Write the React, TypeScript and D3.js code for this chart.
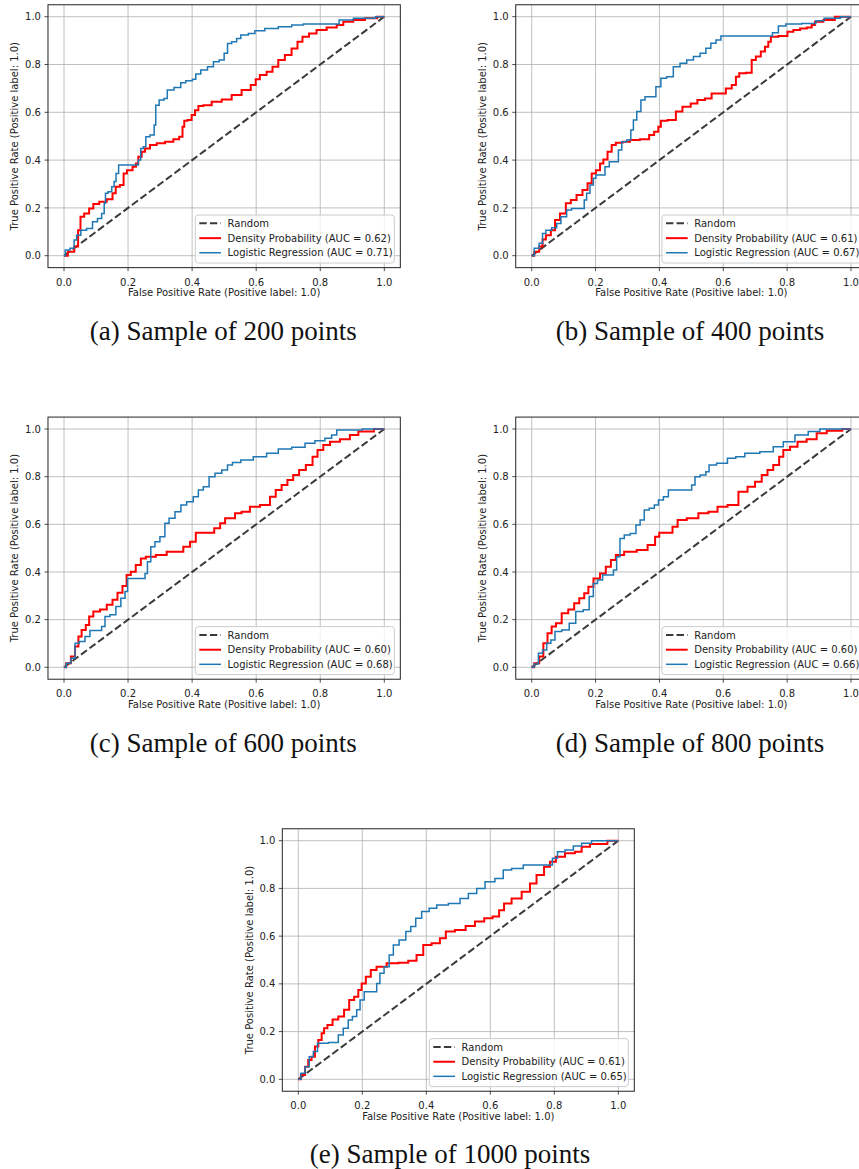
import React from "react";
import * as d3 from "d3";

// ROC curves, [fpr, tpr] vertices, for each sample size
const densityA: [number, number][] = [
  [0, 0], [0.024, 0.017], [0.04, 0.038], [0.048, 0.107], [0.055, 0.163], [0.071, 0.177],
  [0.086, 0.198], [0.097, 0.216], [0.123, 0.226], [0.144, 0.236], [0.159, 0.261], [0.164, 0.289],
  [0.185, 0.296], [0.187, 0.344], [0.206, 0.358], [0.222, 0.372], [0.227, 0.386], [0.237, 0.414],
  [0.248, 0.435], [0.258, 0.449], [0.279, 0.463], [0.3, 0.47], [0.331, 0.477], [0.352, 0.487],
  [0.367, 0.498], [0.373, 0.54], [0.378, 0.565], [0.393, 0.568], [0.404, 0.589], [0.414, 0.609],
  [0.425, 0.626], [0.445, 0.63], [0.477, 0.644], [0.508, 0.654], [0.539, 0.672], [0.57, 0.693],
  [0.596, 0.714], [0.601, 0.738], [0.622, 0.756], [0.643, 0.77], [0.659, 0.791], [0.679, 0.819],
  [0.7, 0.84], [0.721, 0.867], [0.737, 0.895], [0.752, 0.916], [0.778, 0.93], [0.799, 0.944],
  [0.841, 0.955], [0.862, 0.965], [0.882, 0.979], [0.924, 0.986], [0.955, 0.993], [1, 1],
];
const logisticA: [number, number][] = [
  [0, 0], [0.008, 0.024], [0.029, 0.031], [0.034, 0.066], [0.045, 0.086], [0.06, 0.107],
  [0.081, 0.114], [0.097, 0.142], [0.112, 0.156], [0.123, 0.177], [0.128, 0.219], [0.131, 0.261],
  [0.144, 0.268], [0.154, 0.289], [0.159, 0.31], [0.166, 0.344], [0.175, 0.379], [0.227, 0.379],
  [0.237, 0.4], [0.242, 0.449], [0.253, 0.456], [0.258, 0.498], [0.279, 0.505], [0.284, 0.547],
  [0.289, 0.63], [0.305, 0.651], [0.32, 0.658], [0.325, 0.693], [0.362, 0.704], [0.367, 0.724],
  [0.393, 0.732], [0.409, 0.738], [0.414, 0.76], [0.44, 0.777], [0.456, 0.791], [0.477, 0.812],
  [0.492, 0.819], [0.508, 0.847], [0.513, 0.888], [0.534, 0.895], [0.544, 0.909], [0.56, 0.923],
  [0.591, 0.93], [0.601, 0.941], [0.653, 0.951], [0.685, 0.958], [0.737, 0.965], [0.758, 0.969],
  [0.856, 0.969], [0.862, 0.986], [0.945, 0.993], [1, 1],
];
const densityB: [number, number][] = [
  [0, 0], [0.016, 0.017], [0.031, 0.038], [0.037, 0.068], [0.052, 0.086], [0.068, 0.107],
  [0.078, 0.149], [0.099, 0.177], [0.115, 0.219], [0.13, 0.233], [0.151, 0.254], [0.167, 0.275],
  [0.183, 0.303], [0.193, 0.344], [0.209, 0.358], [0.219, 0.386], [0.23, 0.403], [0.245, 0.435],
  [0.256, 0.463], [0.271, 0.473], [0.298, 0.477], [0.318, 0.484], [0.36, 0.487], [0.376, 0.505],
  [0.391, 0.519], [0.402, 0.54], [0.407, 0.565], [0.444, 0.568], [0.459, 0.603], [0.485, 0.623],
  [0.511, 0.637], [0.527, 0.651], [0.558, 0.658], [0.569, 0.679], [0.6, 0.679], [0.616, 0.7],
  [0.637, 0.714], [0.642, 0.749], [0.658, 0.763], [0.684, 0.766], [0.694, 0.819], [0.71, 0.833],
  [0.725, 0.854], [0.736, 0.874], [0.746, 0.895], [0.752, 0.916], [0.793, 0.919], [0.809, 0.937],
  [0.83, 0.944], [0.851, 0.951], [0.872, 0.955], [0.882, 0.965], [0.892, 0.979], [0.934, 0.986],
  [0.965, 1], [1, 1],
];
const logisticB: [number, number][] = [
  [0, 0], [0.016, 0.031], [0.031, 0.052], [0.037, 0.093], [0.052, 0.107], [0.073, 0.117],
  [0.084, 0.135], [0.099, 0.163], [0.12, 0.191], [0.13, 0.198], [0.162, 0.198], [0.167, 0.233],
  [0.177, 0.261], [0.188, 0.296], [0.198, 0.324], [0.204, 0.338], [0.224, 0.338], [0.235, 0.372],
  [0.251, 0.393], [0.266, 0.393], [0.277, 0.442], [0.287, 0.477], [0.308, 0.484], [0.313, 0.526],
  [0.324, 0.568], [0.334, 0.603], [0.35, 0.651], [0.36, 0.665], [0.381, 0.665], [0.397, 0.707],
  [0.412, 0.742], [0.433, 0.749], [0.454, 0.791], [0.475, 0.805], [0.496, 0.819], [0.517, 0.833],
  [0.538, 0.847], [0.553, 0.868], [0.569, 0.889], [0.585, 0.903], [0.6, 0.919], [0.746, 0.919],
  [0.762, 0.933], [0.783, 0.961], [0.809, 0.969], [0.882, 0.972], [0.898, 0.983], [0.934, 0.993],
  [1, 1],
];
const densityC: [number, number][] = [
  [0, 0], [0.014, 0.017], [0.029, 0.045], [0.04, 0.087], [0.05, 0.129], [0.06, 0.157],
  [0.076, 0.178], [0.081, 0.213], [0.102, 0.234], [0.123, 0.243], [0.144, 0.262], [0.159, 0.283],
  [0.175, 0.313], [0.19, 0.341], [0.201, 0.387], [0.216, 0.401], [0.232, 0.429], [0.248, 0.457],
  [0.263, 0.464], [0.31, 0.471], [0.331, 0.485], [0.362, 0.485], [0.383, 0.506], [0.404, 0.527],
  [0.419, 0.565], [0.461, 0.565], [0.477, 0.583], [0.498, 0.604], [0.508, 0.625], [0.529, 0.625],
  [0.539, 0.646], [0.57, 0.653], [0.591, 0.674], [0.633, 0.681], [0.653, 0.716], [0.669, 0.744],
  [0.69, 0.765], [0.705, 0.786], [0.726, 0.807], [0.742, 0.828], [0.768, 0.849], [0.784, 0.884],
  [0.799, 0.912], [0.82, 0.933], [0.841, 0.947], [0.882, 0.957], [0.903, 0.975], [0.935, 0.989],
  [1, 1],
];
const logisticC: [number, number][] = [
  [0, 0], [0.014, 0.017], [0.029, 0.038], [0.04, 0.101], [0.055, 0.108], [0.076, 0.129],
  [0.086, 0.154], [0.112, 0.154], [0.123, 0.171], [0.133, 0.213], [0.154, 0.22], [0.17, 0.255],
  [0.185, 0.29], [0.196, 0.318], [0.201, 0.373], [0.248, 0.373], [0.258, 0.394], [0.263, 0.443],
  [0.279, 0.506], [0.289, 0.527], [0.31, 0.548], [0.32, 0.604], [0.336, 0.625], [0.357, 0.653],
  [0.373, 0.681], [0.393, 0.695], [0.414, 0.716], [0.425, 0.744], [0.445, 0.758], [0.461, 0.8],
  [0.482, 0.814], [0.503, 0.828], [0.518, 0.849], [0.534, 0.859], [0.57, 0.87], [0.612, 0.884],
  [0.653, 0.898], [0.685, 0.916], [0.737, 0.923], [0.768, 0.94], [0.799, 0.951], [0.83, 0.961],
  [0.841, 0.975], [0.862, 0.996], [1, 1],
];
const densityD: [number, number][] = [
  [0, 0], [0.016, 0.017], [0.031, 0.045], [0.042, 0.101], [0.057, 0.143], [0.068, 0.171],
  [0.084, 0.185], [0.104, 0.227], [0.125, 0.243], [0.141, 0.269], [0.157, 0.29], [0.172, 0.311],
  [0.183, 0.338], [0.204, 0.373], [0.224, 0.394], [0.24, 0.422], [0.256, 0.45], [0.271, 0.471],
  [0.308, 0.485], [0.35, 0.492], [0.376, 0.513], [0.397, 0.548], [0.402, 0.565], [0.433, 0.565],
  [0.449, 0.59], [0.465, 0.618], [0.506, 0.625], [0.538, 0.646], [0.569, 0.653], [0.595, 0.674],
  [0.632, 0.681], [0.663, 0.737], [0.689, 0.758], [0.71, 0.779], [0.731, 0.807], [0.746, 0.828],
  [0.767, 0.849], [0.783, 0.884], [0.793, 0.912], [0.825, 0.926], [0.84, 0.947], [0.882, 0.957],
  [0.903, 0.982], [0.945, 0.993], [1, 1],
];
const logisticD: [number, number][] = [
  [0, 0], [0.016, 0.014], [0.026, 0.059], [0.042, 0.073], [0.052, 0.101], [0.068, 0.115],
  [0.078, 0.15], [0.11, 0.157], [0.125, 0.185], [0.151, 0.234], [0.172, 0.241], [0.188, 0.297],
  [0.198, 0.352], [0.214, 0.366], [0.23, 0.387], [0.251, 0.387], [0.261, 0.408], [0.271, 0.464],
  [0.282, 0.541], [0.298, 0.555], [0.319, 0.562], [0.334, 0.597], [0.345, 0.618], [0.36, 0.66],
  [0.376, 0.667], [0.392, 0.681], [0.402, 0.702], [0.423, 0.716], [0.433, 0.744], [0.496, 0.744],
  [0.506, 0.765], [0.517, 0.8], [0.538, 0.807], [0.553, 0.821], [0.558, 0.849], [0.6, 0.856],
  [0.626, 0.877], [0.652, 0.884], [0.683, 0.898], [0.746, 0.905], [0.767, 0.926], [0.809, 0.947],
  [0.84, 0.975], [0.892, 0.989], [0.913, 1], [1, 1],
];
const densityE: [number, number][] = [
  [0, 0], [0.016, 0.018], [0.026, 0.053], [0.036, 0.081], [0.047, 0.095], [0.057, 0.137],
  [0.068, 0.165], [0.078, 0.193], [0.083, 0.214], [0.099, 0.228], [0.115, 0.251], [0.135, 0.263],
  [0.151, 0.291], [0.167, 0.332], [0.182, 0.346], [0.193, 0.374], [0.203, 0.402], [0.219, 0.43],
  [0.234, 0.458], [0.255, 0.472], [0.297, 0.486], [0.328, 0.489], [0.359, 0.497], [0.38, 0.521],
  [0.401, 0.563], [0.432, 0.57], [0.453, 0.591], [0.469, 0.619], [0.51, 0.626], [0.536, 0.642],
  [0.568, 0.661], [0.594, 0.675], [0.62, 0.682], [0.635, 0.709], [0.651, 0.737], [0.682, 0.758],
  [0.714, 0.786], [0.734, 0.821], [0.755, 0.856], [0.781, 0.891], [0.792, 0.912], [0.818, 0.933],
  [0.849, 0.947], [0.88, 0.954], [0.891, 0.975], [0.932, 0.986], [1, 1],
];
const logisticE: [number, number][] = [
  [0, 0], [0.016, 0.025], [0.026, 0.053], [0.042, 0.095], [0.052, 0.116], [0.068, 0.151],
  [0.12, 0.154], [0.13, 0.186], [0.151, 0.214], [0.161, 0.249], [0.177, 0.263], [0.188, 0.291],
  [0.198, 0.332], [0.214, 0.367], [0.24, 0.367], [0.25, 0.402], [0.26, 0.444], [0.276, 0.472],
  [0.292, 0.521], [0.302, 0.563], [0.328, 0.584], [0.344, 0.619], [0.359, 0.64], [0.375, 0.675],
  [0.396, 0.703], [0.422, 0.717], [0.443, 0.731], [0.495, 0.737], [0.516, 0.758], [0.547, 0.779],
  [0.568, 0.8], [0.599, 0.828], [0.63, 0.842], [0.651, 0.877], [0.682, 0.884], [0.724, 0.898],
  [0.786, 0.898], [0.802, 0.926], [0.818, 0.954], [0.849, 0.961], [0.87, 0.978], [0.901, 0.989],
  [0.932, 1], [1, 1],
];

const randomLine: [number, number][] = [[0, 0], [1, 1]];
const tickValues = [0, 0.2, 0.4, 0.6, 0.8, 1.0];
const captions = [
  "(a) Sample of 200 points",
  "(b) Sample of 400 points",
  "(c) Sample of 600 points",
  "(d) Sample of 800 points",
  "(e) Sample of 1000 points",
];
const densityAuc = [0.62, 0.61, 0.6, 0.6, 0.61];
const logisticAuc = [0.71, 0.67, 0.68, 0.66, 0.65];
const densityCurves = [densityA, densityB, densityC, densityD, densityE];
const logisticCurves = [logisticA, logisticB, logisticC, logisticD, logisticE];

// pixel placement of each subplot: data 0..1 mapped to these ranges
const layout = [
  { x0: 64, x1: 384.3, y0: 255.7, y1: 16.7, capX: 223.3, capY: 340 },
  { x0: 531.7, x1: 851, y0: 255.7, y1: 16.7, capX: 690, capY: 340 },
  { x0: 64, x1: 384.3, y0: 667.3, y1: 429, capX: 223.3, capY: 752 },
  { x0: 531.7, x1: 851, y0: 667.3, y1: 429, capX: 690, capY: 752 },
  { x0: 298.3, x1: 618.3, y0: 1079.3, y1: 840.7, capX: 450, capY: 1162.7 },
];

const SANS = "'DejaVu Sans', sans-serif";
const SERIF = "'Liberation Serif', 'DejaVu Serif', serif";
const RED = "#ff0000";
const BLUE = "#1f77b4";
const DASH = "#3a3a3a";
const TEXT = "#222";

function RocPanel({ i }: { i: number }) {
  const L = layout[i];
  const x = d3.scaleLinear().domain([-0.05, 1.05]).range([
    L.x0 - 0.05 * (L.x1 - L.x0),
    L.x1 + 0.05 * (L.x1 - L.x0),
  ]);
  const y = d3.scaleLinear().domain([-0.05, 1.05]).range([
    L.y0 + 0.05 * (L.y0 - L.y1),
    L.y1 - 0.05 * (L.y0 - L.y1),
  ]);
  const straight = d3
    .line<[number, number]>()
    .x((d) => x(d[0]))
    .y((d) => y(d[1]));
  // ROC curves are staircases
  const stairs = d3
    .line<[number, number]>()
    .x((d) => x(d[0]))
    .y((d) => y(d[1]))
    .curve(d3.curveStep);

  const left = x(-0.05);
  const right = x(1.05);
  const top = y(1.05);
  const bottom = y(-0.05);
  const cx = (left + right) / 2;
  const cy = (top + bottom) / 2;

  // legend in lower right
  const legW = 199;
  const legH = 48;
  const legX = right - 6 - legW;
  const legY = bottom - 4.6 - legH;
  const rows = [
    { label: "Random", color: DASH, width: 2, dash: "7.4 3.2" },
    { label: `Density Probability (AUC = ${densityAuc[i].toFixed(2)})`, color: RED, width: 2, dash: undefined },
    { label: `Logistic Regression (AUC = ${logisticAuc[i].toFixed(2)})`, color: BLUE, width: 1.5, dash: undefined },
  ];
  const rowY = [8.3, 23.1, 37.7];

  return (
    <g>
      <rect x={left} y={top} width={right - left} height={bottom - top} fill="#fff" />
      {/* grid */}
      {tickValues.map((t) => (
        <g key={"g" + t}>
          <line x1={x(t)} x2={x(t)} y1={top} y2={bottom} stroke="#b0b0b0" strokeWidth={0.8} />
          <line x1={left} x2={right} y1={y(t)} y2={y(t)} stroke="#b0b0b0" strokeWidth={0.8} />
        </g>
      ))}
      {/* curves */}
      <path d={straight(randomLine) || ""} fill="none" stroke={DASH} strokeWidth={2} strokeDasharray="7.4 3.2" />
      <path d={stairs(densityCurves[i]) || ""} fill="none" stroke={RED} strokeWidth={2} strokeLinejoin="miter" />
      <path d={stairs(logisticCurves[i]) || ""} fill="none" stroke={BLUE} strokeWidth={1.5} strokeLinejoin="miter" />
      {/* frame */}
      <rect x={left} y={top} width={right - left} height={bottom - top} fill="none" stroke={TEXT} strokeWidth={1} />
      {/* ticks */}
      {tickValues.map((t) => (
        <g key={"t" + t} fontFamily={SANS} fontSize={10} fill={TEXT}>
          <line x1={x(t)} x2={x(t)} y1={bottom} y2={bottom + 3.5} stroke={TEXT} strokeWidth={0.8} />
          <text x={x(t)} y={bottom + 18} textAnchor="middle">{t.toFixed(1)}</text>
          <line x1={left - 3.5} x2={left} y1={y(t)} y2={y(t)} stroke={TEXT} strokeWidth={0.8} />
          <text x={left - 7} y={y(t) + 3.6} textAnchor="end">{t.toFixed(1)}</text>
        </g>
      ))}
      <text x={cx} y={bottom + 28.5} textAnchor="middle" fontFamily={SANS} fontSize={10} fill={TEXT}>
        False Positive Rate (Positive label: 1.0)
      </text>
      <text
        transform={`translate(${left - 29.5},${cy}) rotate(-90)`}
        textAnchor="middle"
        fontFamily={SANS}
        fontSize={10}
        fill={TEXT}
      >
        True Positive Rate (Positive label: 1.0)
      </text>
      {/* legend */}
      <g transform={`translate(${legX},${legY})`}>
        <rect x={0} y={0} width={legW} height={legH} rx={3} fill="#fff" fillOpacity={0.8} stroke="#cccccc" strokeWidth={1} />
        {rows.map((r, k) => (
          <g key={r.label}>
            <line x1={4} x2={25.7} y1={rowY[k]} y2={rowY[k]} stroke={r.color} strokeWidth={r.width} strokeDasharray={r.dash} />
            <text x={32.3} y={rowY[k] + 3.6} fontFamily={SANS} fontSize={10} fill={TEXT}>
              {r.label}
            </text>
          </g>
        ))}
      </g>
      <text x={L.capX} y={L.capY} textAnchor="middle" fontFamily={SERIF} fontSize={27} fill="#111">
        {captions[i]}
      </text>
    </g>
  );
}

export default function App() {
  return (
    <svg
      width={859}
      height={1169}
      style={{ position: "absolute", left: 0, top: 0, background: "#fff" }}
    >
      <rect width={859} height={1169} fill="#fff" />
      {captions.map((_, i) => (
        <RocPanel key={i} i={i} />
      ))}
    </svg>
  );
}
